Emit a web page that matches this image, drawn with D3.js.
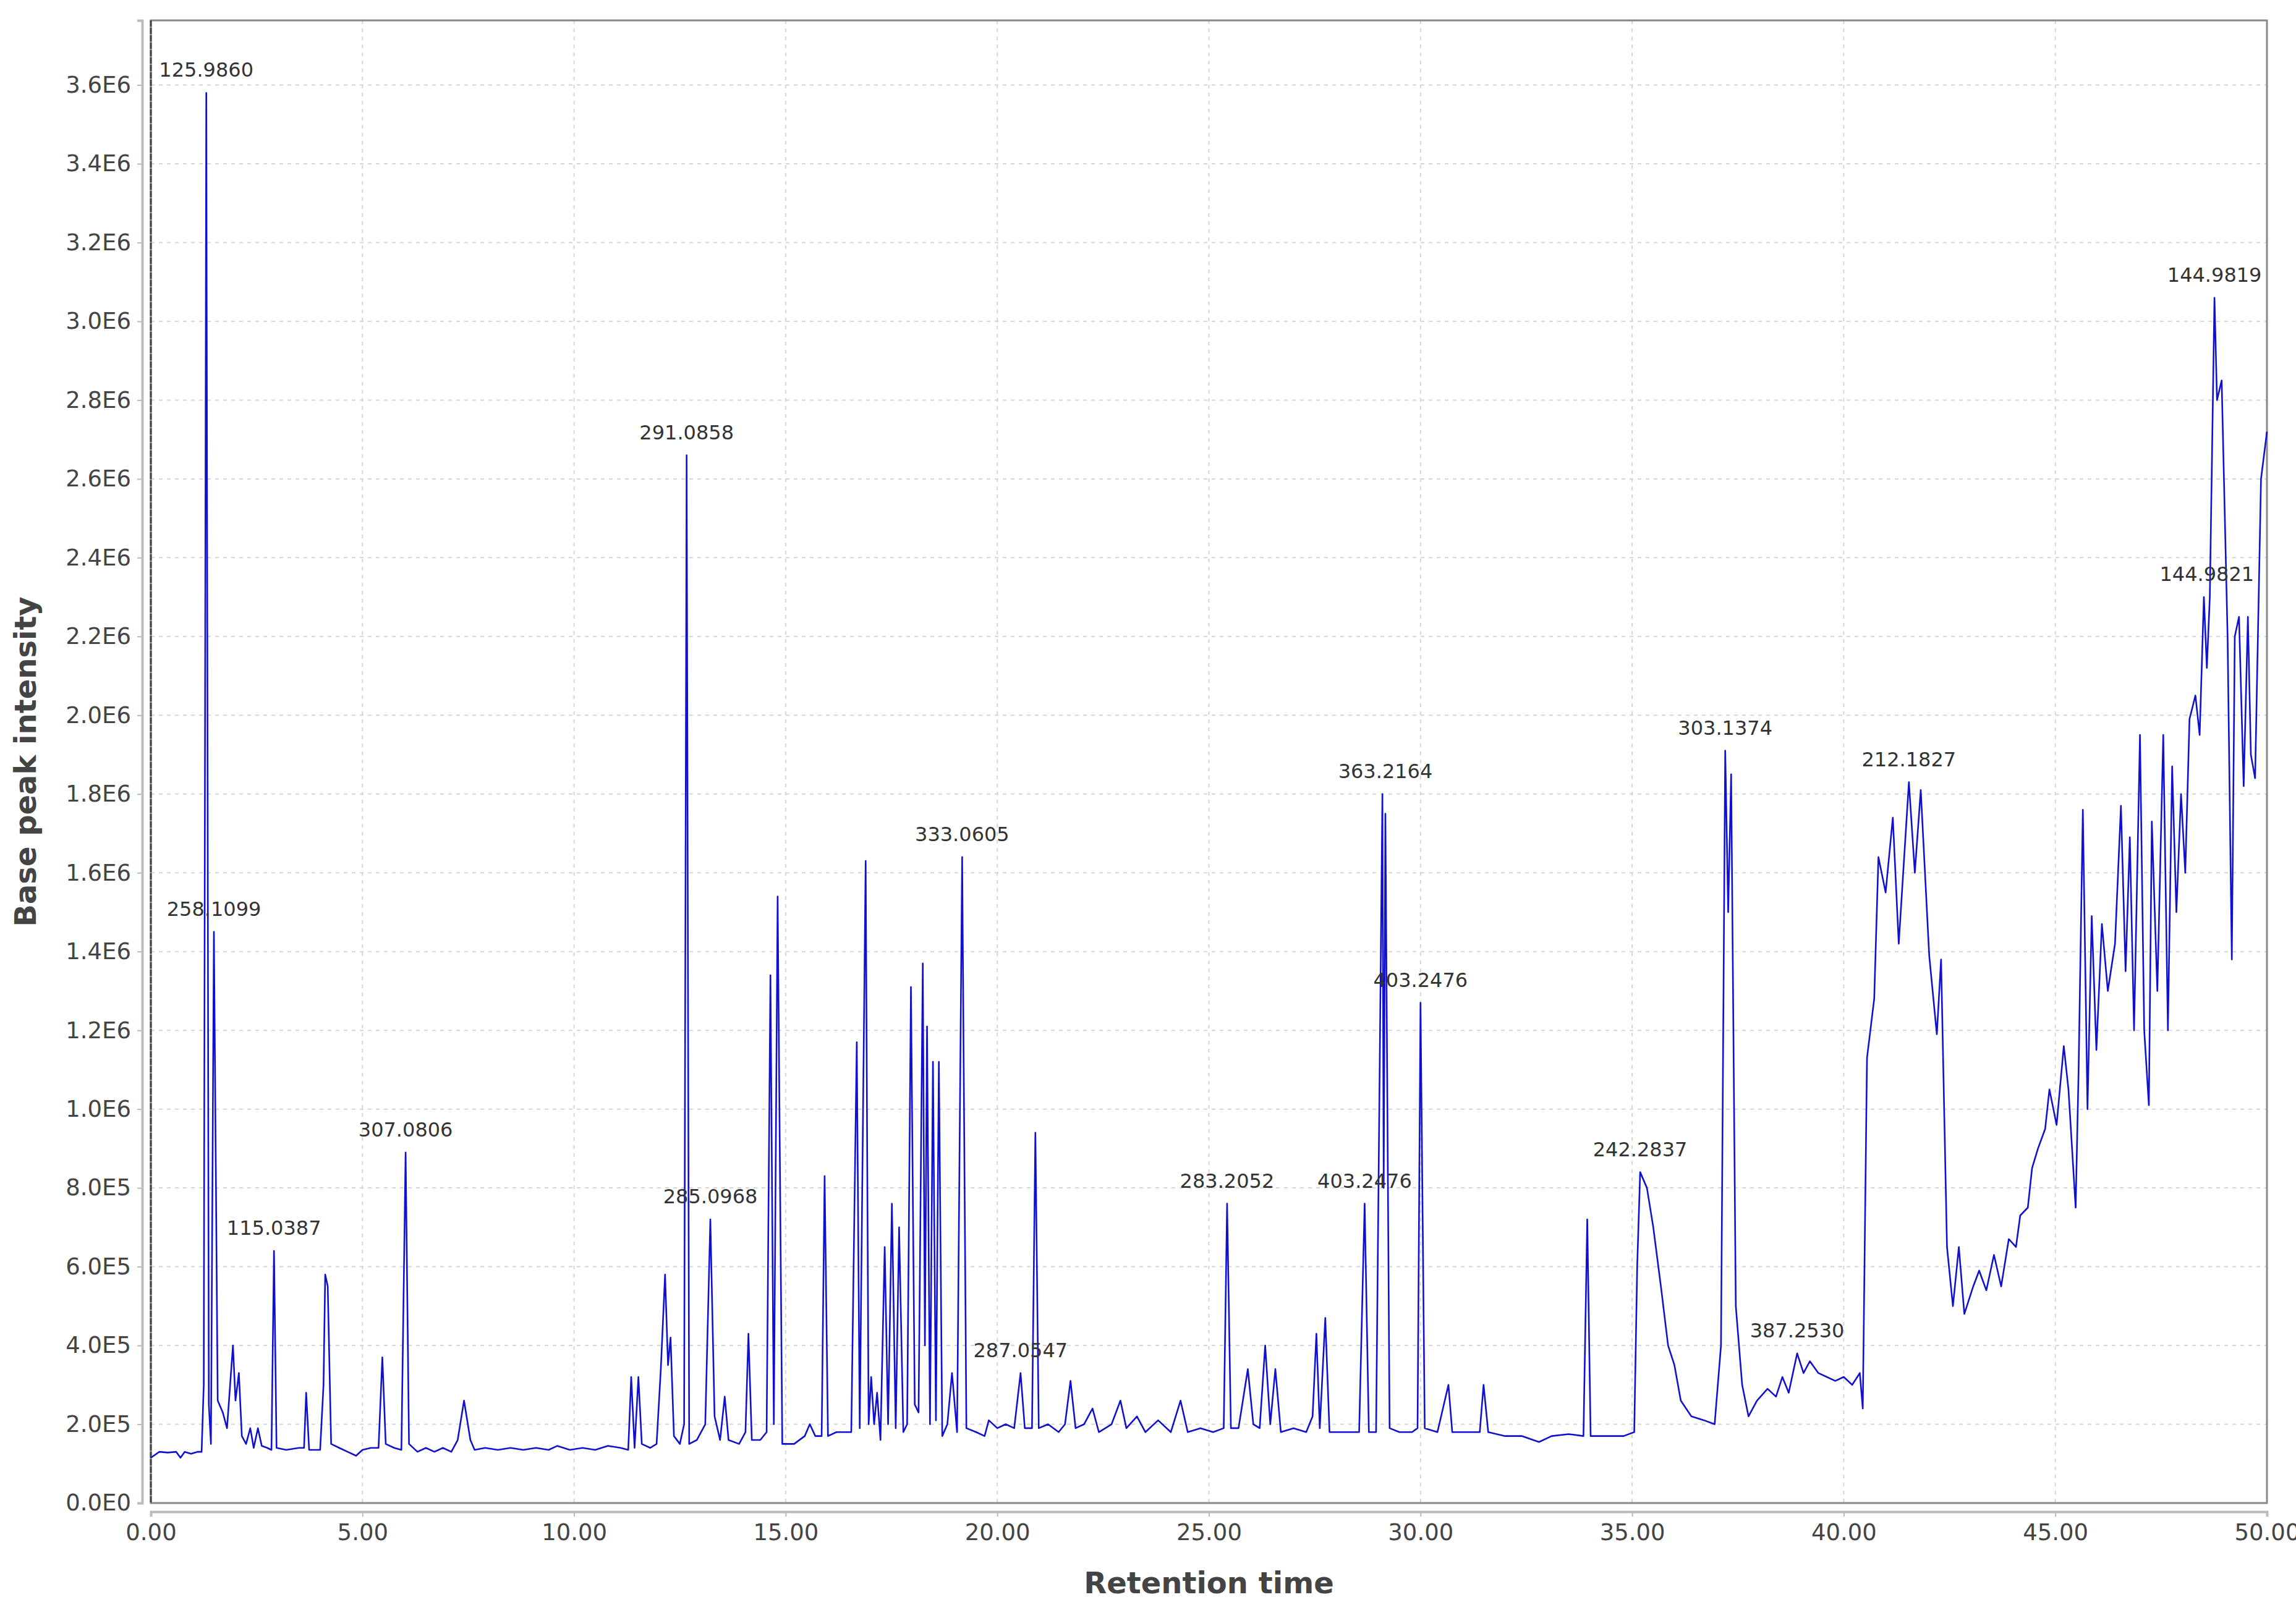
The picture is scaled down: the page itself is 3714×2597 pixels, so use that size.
<!DOCTYPE html>
<html><head><meta charset="utf-8">
<script src="https://cdn.jsdelivr.net/npm/d3@7"></script>
<style>body{margin:0;background:#fff}text{font-family:"DejaVu Sans",sans-serif}</style>
</head><body><svg id="c" width="3714" height="2597"></svg>
<script>
// retention time (min), intensity (x1E5)
const trace = [
[0,1.15],[0.2,1.3],[0.4,1.28],[0.6,1.3],[0.7,1.15],[0.8,1.3],[0.95,1.25],[1.1,1.3],[1.2,1.3],[1.25,3],[1.31,35.8],[1.37,2.5],[1.42,1.5],[1.49,14.5],[1.58,2.6],[1.7,2.3],[1.8,1.9],[1.94,4.0],[2.0,2.6],[2.08,3.3],[2.15,1.7],[2.25,1.5],[2.35,1.9],[2.43,1.4],[2.53,1.9],[2.62,1.45],[2.75,1.4],[2.85,1.35],[2.91,6.4],[2.97,1.4],[3.2,1.35],[3.5,1.4],[3.62,1.4],[3.67,2.8],[3.74,1.35],[4.0,1.35],[4.08,3.0],[4.12,5.8],[4.18,5.5],[4.26,1.5],[4.45,1.4],[4.65,1.3],[4.85,1.2],[5.0,1.35],[5.2,1.4],[5.38,1.4],[5.47,3.7],[5.55,1.5],[5.75,1.4],[5.92,1.35],[6.02,8.9],[6.1,1.5],[6.3,1.3],[6.5,1.4],[6.7,1.3],[6.9,1.4],[7.1,1.3],[7.25,1.6],[7.4,2.6],[7.55,1.6],[7.65,1.35],[7.9,1.4],[8.2,1.35],[8.5,1.4],[8.8,1.35],[9.1,1.4],[9.4,1.35],[9.6,1.45],[9.9,1.35],[10.2,1.4],[10.5,1.35],[10.8,1.45],[11.1,1.4],[11.28,1.35],[11.35,3.2],[11.43,1.4],[11.52,3.2],[11.6,1.5],[11.8,1.4],[11.95,1.5],[12.05,3.4],[12.15,5.8],[12.22,3.5],[12.28,4.2],[12.36,1.7],[12.5,1.5],[12.6,2.0],[12.66,26.6],[12.72,1.5],[12.9,1.6],[13.1,2.0],[13.22,7.2],[13.32,2.2],[13.45,1.6],[13.56,2.7],[13.65,1.6],[13.9,1.5],[14.05,1.8],[14.12,4.3],[14.2,1.6],[14.4,1.6],[14.55,1.8],[14.64,13.4],[14.72,2.0],[14.81,15.4],[14.92,1.5],[15.2,1.5],[15.45,1.7],[15.57,2.0],[15.7,1.7],[15.85,1.7],[15.92,8.3],[16.0,1.7],[16.2,1.8],[16.4,1.8],[16.55,1.8],[16.68,11.7],[16.75,1.9],[16.89,16.3],[16.96,2.0],[17.02,3.2],[17.09,2.0],[17.16,2.8],[17.24,1.6],[17.34,6.5],[17.42,2.0],[17.51,7.6],[17.6,1.9],[17.68,7.0],[17.78,1.8],[17.87,2.0],[17.96,13.1],[18.05,2.5],[18.14,2.3],[18.24,13.7],[18.29,4.0],[18.34,12.1],[18.41,2.0],[18.48,11.2],[18.55,2.1],[18.62,11.2],[18.7,1.7],[18.82,2.0],[18.93,3.3],[19.05,1.8],[19.17,16.4],[19.27,1.9],[19.5,1.8],[19.7,1.7],[19.8,2.1],[20.0,1.9],[20.2,2.0],[20.4,1.9],[20.55,3.3],[20.65,1.9],[20.82,1.9],[20.9,9.4],[20.98,1.9],[21.2,2.0],[21.45,1.8],[21.6,2.0],[21.73,3.1],[21.85,1.9],[22.05,2.0],[22.25,2.4],[22.4,1.8],[22.7,2.0],[22.91,2.6],[23.05,1.9],[23.3,2.2],[23.5,1.8],[23.8,2.1],[24.1,1.8],[24.33,2.6],[24.5,1.8],[24.8,1.9],[25.1,1.8],[25.35,1.9],[25.43,7.6],[25.52,1.9],[25.7,1.9],[25.92,3.4],[26.05,2.0],[26.2,1.9],[26.33,4.0],[26.45,2.0],[26.57,3.4],[26.7,1.8],[27.0,1.9],[27.3,1.8],[27.45,2.2],[27.54,4.3],[27.62,1.9],[27.75,4.7],[27.85,1.8],[28.2,1.8],[28.55,1.8],[28.68,7.6],[28.78,1.8],[28.95,1.8],[29.1,18.0],[29.13,8.0],[29.17,17.5],[29.27,1.9],[29.5,1.8],[29.8,1.8],[29.93,1.9],[30.0,12.7],[30.1,1.9],[30.4,1.8],[30.66,3.0],[30.75,1.8],[31.1,1.8],[31.4,1.8],[31.49,3.0],[31.6,1.8],[32.0,1.7],[32.4,1.7],[32.8,1.55],[33.1,1.7],[33.5,1.75],[33.85,1.7],[33.94,7.2],[34.02,1.7],[34.4,1.7],[34.8,1.7],[35.05,1.8],[35.12,6.0],[35.19,8.4],[35.35,8.0],[35.5,7.0],[35.68,5.5],[35.85,4.0],[36.0,3.5],[36.15,2.6],[36.4,2.2],[36.7,2.1],[36.95,2.0],[37.1,4.0],[37.2,19.1],[37.27,15.0],[37.34,18.5],[37.45,5.0],[37.6,3.0],[37.75,2.2],[37.95,2.6],[38.2,2.9],[38.4,2.7],[38.55,3.2],[38.7,2.8],[38.9,3.8],[39.05,3.3],[39.2,3.6],[39.4,3.3],[39.6,3.2],[39.8,3.1],[40.0,3.2],[40.2,3.0],[40.38,3.3],[40.45,2.4],[40.55,11.3],[40.72,12.8],[40.82,16.4],[40.99,15.5],[41.16,17.4],[41.3,14.2],[41.54,18.3],[41.68,16.0],[41.82,18.1],[42.02,13.9],[42.2,11.9],[42.3,13.8],[42.44,6.5],[42.58,5.0],[42.72,6.5],[42.85,4.8],[43.06,5.5],[43.2,5.9],[43.37,5.4],[43.55,6.3],[43.72,5.5],[43.9,6.7],[44.07,6.5],[44.17,7.3],[44.35,7.5],[44.45,8.5],[44.59,9.0],[44.76,9.5],[44.86,10.5],[45.03,9.6],[45.2,11.6],[45.31,10.5],[45.48,7.5],[45.55,11.0],[45.65,17.6],[45.76,10.0],[45.86,14.9],[45.97,11.5],[46.1,14.7],[46.24,13.0],[46.41,14.2],[46.55,17.7],[46.66,13.5],[46.76,16.9],[46.86,12.0],[47.0,19.5],[47.1,12.0],[47.21,10.1],[47.28,17.3],[47.41,13.0],[47.55,19.5],[47.66,12.0],[47.76,18.7],[47.86,15.0],[47.97,18.0],[48.07,16.0],[48.17,19.9],[48.31,20.5],[48.41,19.5],[48.51,23.0],[48.58,21.2],[48.65,23.0],[48.76,30.6],[48.82,28.0],[48.93,28.5],[49.07,22.0],[49.17,13.8],[49.24,22.0],[49.34,22.5],[49.45,18.2],[49.55,22.5],[49.62,19.0],[49.72,18.4],[49.86,26.0],[50.0,27.2]
];
const peakLabels = ["125.9860","258.1099","115.0387","307.0806","291.0858","285.0968","333.0605","287.0547","283.2052","403.2476","363.2164","403.2476","242.2837","303.1374","387.2530","212.1827","144.9819","144.9821"];
const peakTimes = [1.31,1.49,2.91,6.02,12.66,13.22,19.17,20.55,25.43,28.68,29.17,30.0,35.19,37.2,38.9,41.54,48.76,48.58];
const peakVals  = [35.8,14.5,6.4,8.9,26.6,7.2,16.4,3.3,7.6,7.6,18.0,12.7,8.4,19.1,3.8,18.3,30.6,23.0];
const yTicks = d3.range(0, 37, 2);       // x1E5
const xTicks = d3.range(0, 51, 5);

const svg = d3.select("#c");
const L=244,R=3667,T=33,B=2432;
const x = d3.scaleLinear().domain([0,50]).range([L,R]);
const y = d3.scaleLinear().domain([0,37.64]).range([B,T]);
const fmtY = v => { const n=v*1e5; if(n===0) return "0.0E0"; const e=Math.floor(Math.log10(n)+1e-9); return (n/Math.pow(10,e)).toFixed(1)+"E"+e; };

// grid
const g = svg.append("g");
g.selectAll(".hg").data(yTicks.slice(1)).join("line").attr("x1",L).attr("x2",R).attr("y1",d=>y(d)).attr("y2",d=>y(d)).attr("stroke","#d6d6d6").attr("stroke-width",2).attr("stroke-dasharray","6,7");
g.selectAll(".vg").data(xTicks.slice(1,-1)).join("line").attr("y1",T).attr("y2",B).attr("x1",d=>x(d)).attr("x2",d=>x(d)).attr("stroke","#d6d6d6").attr("stroke-width",2).attr("stroke-dasharray","6,7");

// plot border
svg.append("rect").attr("x",L).attr("y",T).attr("width",R-L).attr("height",B-T).attr("fill","none").attr("stroke","#888").attr("stroke-width",3);
svg.append("line").attr("x1",L).attr("x2",L).attr("y1",T).attr("y2",B).attr("stroke","#444").attr("stroke-width",3).attr("stroke-dasharray","10,2");

// trace
svg.append("path").datum(trace).attr("fill","none").attr("stroke","#1010d0").attr("stroke-width",2.6).attr("stroke-linejoin","round")
  .attr("d", d3.line().x(d=>x(d[0])).y(d=>y(d[1])));

// axes (offset)
const ya = svg.append("g").attr("transform",`translate(${L-14},0)`).call(d3.axisLeft(y).tickValues(yTicks).tickFormat(fmtY).tickSize(8).tickPadding(10));
const xa = svg.append("g").attr("transform",`translate(0,${B+14})`).call(d3.axisBottom(x).tickValues(xTicks).tickFormat(d3.format(".2f")).tickSize(8).tickPadding(12));
[ya,xa].forEach(a=>{a.select(".domain").attr("stroke","#bbb").attr("stroke-width",4);a.selectAll(".tick line").attr("stroke","#bbb").attr("stroke-width",2);a.selectAll("text").attr("font-size",37).attr("fill","#444").attr("font-family","DejaVu Sans");});

// peak labels
svg.selectAll(".pl").data(peakLabels).join("text").attr("x",(d,i)=>x(peakTimes[i])).attr("y",(d,i)=>y(peakVals[i])-26)
 .attr("text-anchor","middle").attr("font-size",32).attr("fill","#333").text(d=>d);

svg.append("text").attr("x",(L+R)/2).attr("y",2578).attr("text-anchor","middle").attr("font-size",48).attr("font-weight","bold").attr("fill","#444").text("Retention time");
svg.append("text").attr("transform",`translate(58,${(T+B)/2}) rotate(-90)`).attr("text-anchor","middle").attr("font-size",48).attr("font-weight","bold").attr("fill","#444").text("Base peak intensity");
</script></body></html>
